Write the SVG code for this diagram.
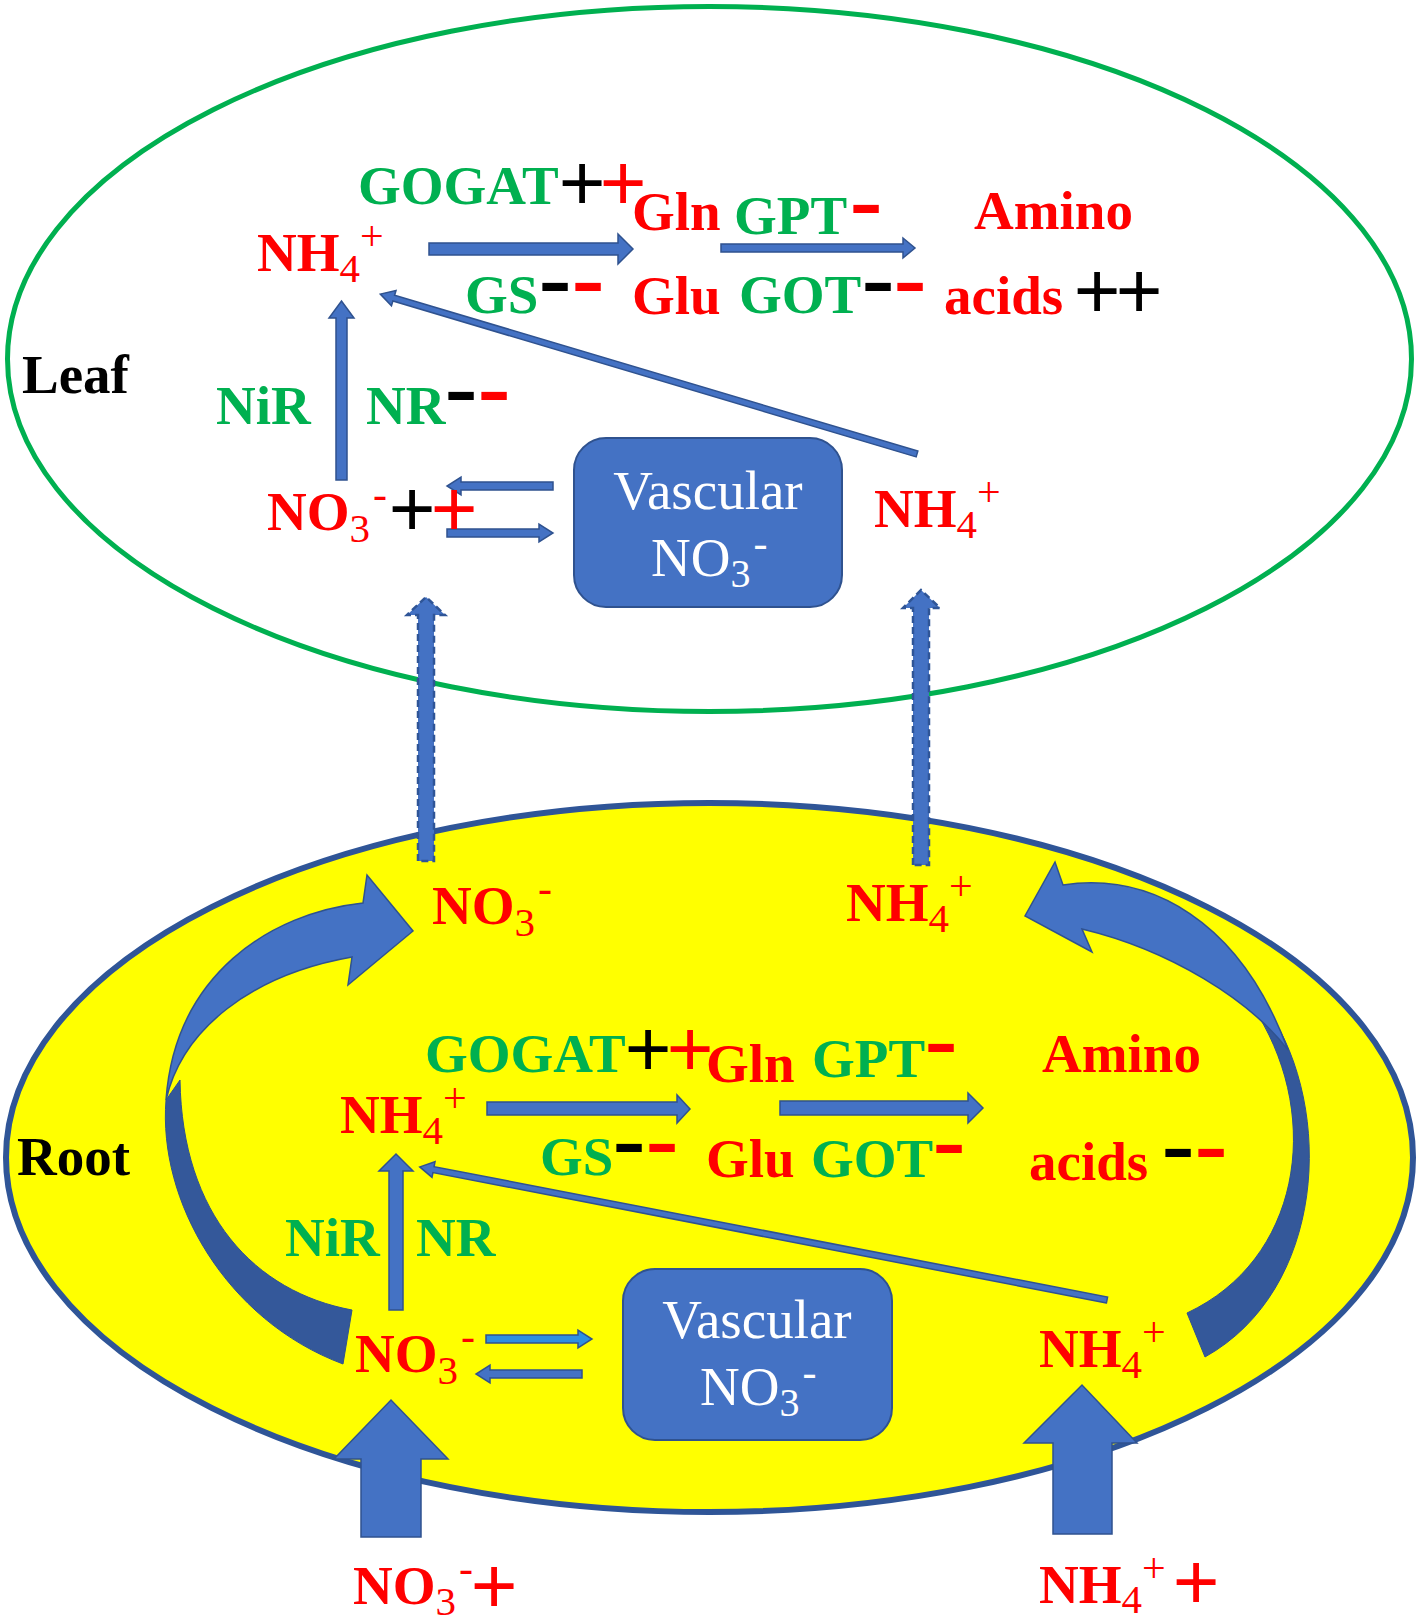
<svg xmlns="http://www.w3.org/2000/svg" width="1418" height="1623" viewBox="0 0 1418 1623">
<style>
.b{font-family:'Liberation Serif','Times New Roman',serif;font-weight:bold;font-size:55px}
.red{fill:#FF0000}.grn{fill:#00B050}.blk{fill:#000000}
.sub{font-size:41px;font-weight:normal}
.sup{font-size:42px;font-weight:normal}
.pl{font-family:'Liberation Sans',Arial,sans-serif;font-size:80px;text-anchor:middle}
.mn{font-family:'Liberation Sans',Arial,sans-serif;font-size:104px;text-anchor:middle}
.vas{font-family:'Liberation Serif','Times New Roman',serif;font-size:55px;fill:#FFFFFF}
.box{fill:#4472C4;stroke:#2F528F;stroke-width:2}
.arr{fill:#4472C4;stroke:#2F528F;stroke-width:1.5}
.dash{fill:#4472C4;stroke:#2F5597;stroke-width:2.5;stroke-dasharray:7 4}
.dark{fill:#34589A;stroke:#2F528F;stroke-width:1}
</style>

<g id="leaf-compartment">
<ellipse cx="709.5" cy="359" rx="702" ry="352.5" fill="#FFFFFF" stroke="#00B050" stroke-width="5"/>
<text class="b blk" x="22" y="393" font-size="58">Leaf</text>
</g>

<g id="root-compartment">
<ellipse cx="709.5" cy="1157.5" rx="703.5" ry="354.5" fill="#FFFF00" stroke="#2F5597" stroke-width="6"/>
<text class="b blk" x="17" y="1175" font-size="57">Root</text>
</g>

<g id="curved-arrows">
<g id="curved-left">
<path class="dark" d="M166 1100 C158 1200 225 1320 343 1364 L352 1310 C255 1292 182 1215 180 1080 Z"/>
<path class="arr" d="M363 903 C270 913 175 975 166 1100 C182 1030 250 975 352 957 L348 985 L413 931 L367 875 Z"/>
</g>
<g id="curved-right">
<path class="dark" d="M1268 1010 C1335 1110 1325 1290 1205 1357 L1187 1313 C1300 1260 1322 1120 1258 1015 Z"/>
<path class="arr" d="M1063 885 C1150 872 1240 920 1288 1050 C1250 1000 1170 950 1082 929 L1092 952 L1025 916 L1055 862 Z"/>
</g>
</g>

<g id="connectors">
<polygon class="arr" points="429,243 618,243 618,234 633,249 618,264 618,255 429,255"/>
<polygon class="arr" points="721,244 903,244 903,238 915,248 903,258 903,252 721,252"/>
<polygon class="arr" points="336,480 336,318 329,318 341.5,301 354,318 347,318 347,480"/>
<polygon class="arr" points="0,-3 546,-3 546,-8 560,0 546,8 546,3 0,3" transform="translate(917,454) rotate(196.59)"/>
<polygon class="arr" points="553,482 461,482 461,477 447,486 461,495 461,490 553,490"/>
<polygon class="arr" points="447,529 539,529 539,524 553,533 539,542 539,537 447,537"/>
<polygon class="dash" points="418,861 418,615 407,615 426,597 445,615 434,615 434,861"/>
<polygon class="dash" points="913,865 913,608 903,608 921,590 940,608 929,608 929,865"/>
<polygon class="arr" points="487,1102 677,1102 677,1095 690,1109 677,1123 677,1115 487,1115"/>
<polygon class="arr" points="780,1101 968,1101 968,1093 983,1108 968,1123 968,1115 780,1115"/>
<polygon class="arr" points="389,1310 389,1171 379,1171 396,1154 413,1171 403,1171 403,1310"/>
<polygon class="arr" points="0,-3 686,-3 686,-8 700,0 686,8 686,3 0,3" transform="translate(1107,1300) rotate(190.96)"/>
<polygon class="arr" points="486,1335 578,1335 578,1330 592,1339 578,1348 578,1343 486,1343" style="fill:#2E8FE0"/>
<polygon class="arr" points="582,1370 490,1370 490,1365 476,1374 490,1383 490,1378 582,1378"/>
<polygon class="arr" points="361,1537 361,1459 334,1459 391,1400 448,1459 421,1459 421,1537"/>
<polygon class="arr" points="1053,1534 1053,1443 1024,1443 1082,1385 1137,1443 1112,1443 1112,1534"/>
</g>

<g id="leaf-nh4">
<text class="b red" x="257" y="271">NH<tspan class="sub" dy="11">4</tspan><tspan class="sup" dy="-32">+</tspan></text>
</g>
<g id="leaf-gogat">
<text class="b grn" x="358" y="204">GOGAT</text>
<text class="pl blk" x="582" y="210">+</text>
<text class="pl red" x="623" y="210">+</text>
</g>
<g id="leaf-gs">
<text class="b grn" x="465" y="313">GS</text>
<text class="mn blk" x="555" y="315">-</text>
<text class="mn red" x="588" y="315">-</text>
</g>
<g id="leaf-gln"><text class="b red" x="632" y="230">Gln</text></g>
<g id="leaf-glu"><text class="b red" x="632" y="314">Glu</text></g>
<g id="leaf-gpt">
<text class="b grn" x="734" y="234">GPT</text>
<text class="mn red" x="866" y="237">-</text>
</g>
<g id="leaf-got">
<text class="b grn" x="739" y="313">GOT</text>
<text class="mn blk" x="878" y="315">-</text>
<text class="mn red" x="910" y="315">-</text>
</g>
<g id="leaf-amino">
<text class="b red" x="974" y="229">Amino</text>
<text class="b red" x="944" y="314">acids</text>
<text class="pl blk" x="1097" y="318">+</text>
<text class="pl blk" x="1139" y="318">+</text>
</g>
<g id="leaf-nir"><text class="b grn" x="216" y="424">NiR</text></g>
<g id="leaf-nr">
<text class="b grn" x="366" y="424">NR</text>
<text class="mn blk" x="461" y="424">-</text>
<text class="mn red" x="494" y="424">-</text>
</g>
<g id="leaf-no3">
<text class="b red" x="267" y="530">NO<tspan class="sub" dy="12">3</tspan><tspan class="sup" dx="3" dy="-34">-</tspan></text>
<text class="pl blk" x="412" y="536">+</text>
<text class="pl red" x="454" y="536">+</text>
</g>
<g id="leaf-vascular">
<rect class="box" x="574" y="438" width="268" height="169" rx="32"/>
<text class="vas" x="708" y="509" text-anchor="middle">Vascular</text>
<text class="vas" x="651" y="576">NO<tspan font-size="40" dy="11">3</tspan><tspan font-size="42" dx="3" dy="-30">-</tspan></text>
</g>
<g id="leaf-nh4-right">
<text class="b red" x="874" y="527">NH<tspan class="sub" dy="11">4</tspan><tspan class="sup" dy="-32">+</tspan></text>
</g>

<g id="root-no3-top">
<text class="b red" x="432" y="924">NO<tspan class="sub" dy="12">3</tspan><tspan class="sup" dx="3" dy="-34">-</tspan></text>
</g>
<g id="root-nh4-top">
<text class="b red" x="846" y="921">NH<tspan class="sub" dy="11">4</tspan><tspan class="sup" dy="-32">+</tspan></text>
</g>
<g id="root-gogat">
<text class="b grn" x="425" y="1072">GOGAT</text>
<text class="pl blk" x="648" y="1076">+</text>
<text class="pl red" x="690" y="1076">+</text>
</g>
<g id="root-nh4">
<text class="b red" x="340" y="1133">NH<tspan class="sub" dy="11">4</tspan><tspan class="sup" dy="-32">+</tspan></text>
</g>
<g id="root-gs">
<text class="b grn" x="540" y="1175">GS</text>
<text class="mn blk" x="629" y="1176">-</text>
<text class="mn red" x="662" y="1176">-</text>
</g>
<g id="root-gln"><text class="b red" x="706" y="1082">Gln</text></g>
<g id="root-glu"><text class="b red" x="706" y="1177">Glu</text></g>
<g id="root-gpt">
<text class="b grn" x="812" y="1077">GPT</text>
<text class="mn red" x="941" y="1076">-</text>
</g>
<g id="root-got">
<text class="b grn" x="811" y="1177">GOT</text>
<text class="mn red" x="949" y="1177">-</text>
</g>
<g id="root-amino">
<text class="b red" x="1042" y="1072">Amino</text>
<text class="b red" x="1029" y="1180">acids</text>
<text class="mn blk" x="1178" y="1181">-</text>
<text class="mn red" x="1211" y="1181">-</text>
</g>
<g id="root-nir"><text class="b grn" x="285" y="1256">NiR</text></g>
<g id="root-nr"><text class="b grn" x="416" y="1256">NR</text></g>
<g id="root-no3">
<text class="b red" x="355" y="1372">NO<tspan class="sub" dy="12">3</tspan><tspan class="sup" dx="3" dy="-34">-</tspan></text>
</g>
<g id="root-vascular">
<rect class="box" x="623" y="1269" width="269" height="171" rx="32"/>
<text class="vas" x="757" y="1338" text-anchor="middle">Vascular</text>
<text class="vas" x="700" y="1405">NO<tspan font-size="40" dy="11">3</tspan><tspan font-size="42" dx="3" dy="-30">-</tspan></text>
</g>
<g id="root-nh4-right">
<text class="b red" x="1039" y="1367">NH<tspan class="sub" dy="11">4</tspan><tspan class="sup" dy="-32">+</tspan></text>
</g>

<g id="soil-no3">
<text class="b red" x="353" y="1604">NO<tspan class="sub" dy="11">3</tspan><tspan class="sup" dx="3" dy="-33">-</tspan></text>
<text class="pl red" x="494" y="1613">+</text>
</g>
<g id="soil-nh4">
<text class="b red" x="1039" y="1603">NH<tspan class="sub" dy="10">4</tspan><tspan class="sup" dy="-31">+</tspan></text>
<text class="pl red" x="1196" y="1609">+</text>
</g>
</svg>
